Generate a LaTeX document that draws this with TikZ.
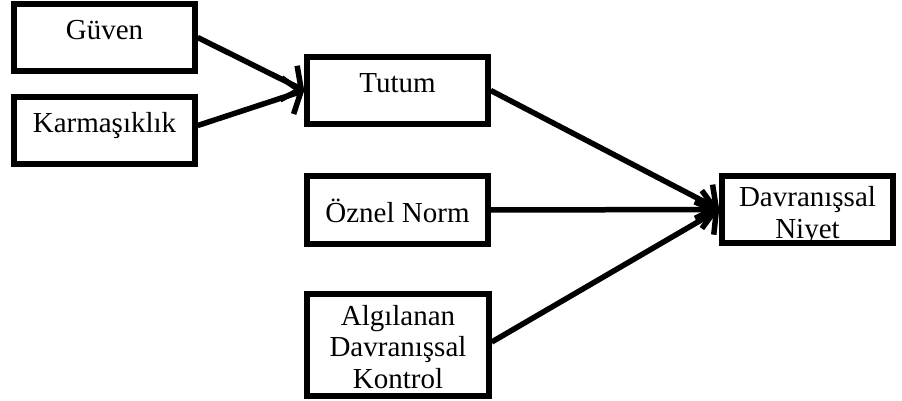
\documentclass[tikz,border=0pt]{standalone}
\usepackage{fontspec}
\setmainfont{Liberation Serif}
\usetikzlibrary{arrows.meta}
\begin{document}
\begin{tikzpicture}[x=1pt,y=-1pt,
  box/.style={draw=black, line width=5.5pt, minimum width=181pt, minimum height=67pt, inner sep=0pt, fill=white},
  lbl/.style={font=\fontsize{29}{31.5}\selectfont, align=center, inner sep=0pt, anchor=base},
  conn/.style={line width=5.5pt, -{Straight Barb[length=14pt,width=38pt]}}]
\useasboundingbox (0,0) rectangle (902,401);
\node[box] (gu) at (104.5,37.5) {};
\node[box] (ka) at (104.5,130.5) {};
\node[box] (tu) at (397.5,90.5) {};
\node[box, minimum height=68pt] (oz) at (397.5,210) {};
\node[box, minimum width=182pt, minimum height=102pt] (al) at (398,345) {};
\node[box, minimum width=171pt] (ni) at (807.5,209.5) {};
\node[lbl] (tgu) at (104.5,40) {Güven};
\node[lbl] (tka) at (104.5,132) {Karmaşıklık};
\node[lbl] (ttu) at (397.5,93) {Tutum};
\node[lbl] (toz) at (397.5,222) {Öznel Norm};
\node[lbl] (tal) at (398,388) {Algılanan\\Davranışsal\\Kontrol};
\node[lbl] (tni) at (807.5,238) {Davranışsal\\Niyet};
\draw[conn] (gu.east) -- (tu.west);
\draw[conn] ([yshift=5pt]ka.east) -- (tu.west);
\draw[conn] (tu.east) -- (ni.west);
\draw[conn] (oz.east) -- (ni.west);
\draw[conn] ([yshift=3pt]al.east) -- (ni.west);
\end{tikzpicture}
\end{document}
